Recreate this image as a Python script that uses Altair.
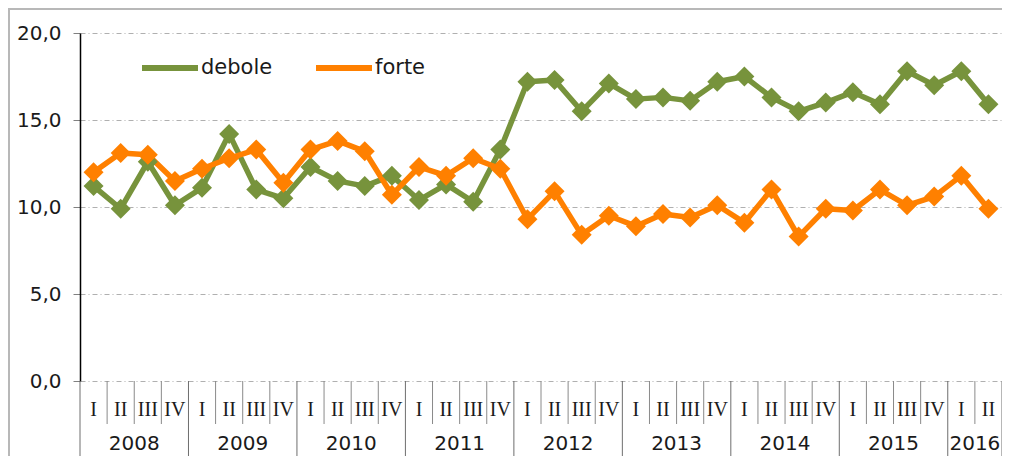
import altair as alt
import pandas as pd

# ---- data ----
years = [2008, 2009, 2010, 2011, 2012, 2013, 2014, 2015, 2016]
quarters_per_year = [4, 4, 4, 4, 4, 4, 4, 4, 2]
quarter_names = ["I", "II", "III", "IV"]
series_names = ["debole", "forte"]
debole = [11.2, 9.9, 12.6, 10.1, 11.1, 14.2, 11.0, 10.5, 12.3, 11.5, 11.2, 11.8,
          10.4, 11.3, 10.3, 13.3, 17.2, 17.3, 15.5, 17.1, 16.2, 16.3, 16.1, 17.2,
          17.5, 16.3, 15.5, 16.0, 16.6, 15.9, 17.8, 17.0, 17.8, 15.9]
forte = [12.0, 13.1, 13.0, 11.5, 12.2, 12.8, 13.3, 11.4, 13.3, 13.8, 13.2, 10.7,
         12.3, 11.8, 12.8, 12.2, 9.3, 10.9, 8.4, 9.5, 8.9, 9.6, 9.4, 10.1,
         9.1, 11.0, 8.3, 9.9, 9.8, 11.0, 10.1, 10.6, 11.8, 9.9]
series_colors = ["#77933C", "#FF8000"]
y_ticks = [0, 5, 10, 15, 20]

# ---- tables built from the lists ----
rows = []
pos = 0
for yr, n in zip(years, quarters_per_year):
    for q in range(n):
        rows.append({"pos": pos + 0.5, "year": str(yr), "quarter": quarter_names[q]})
        pos += 1
periods = pd.DataFrame(rows)
n_periods = len(periods)

long = pd.concat(
    [periods.assign(series=s, value=v) for s, v in zip(series_names, [debole, forte])],
    ignore_index=True,
)

year_starts = set()
acc = 0
for n in quarters_per_year:
    year_starts.add(acc)
    acc += n
year_starts.add(acc)
bounds = pd.DataFrame({"b": list(range(n_periods + 1))})
bounds["is_year"] = bounds["b"].isin(year_starts)
q_bounds = bounds[~bounds["is_year"]]
y_bounds = bounds[bounds["is_year"]]

year_mid = periods.groupby("year", as_index=False)["pos"].mean()

W, H = 922, 348
FONT = "DejaVu Sans"
TXT = "#1a1a1a"

xscale = alt.Scale(domain=[0, n_periods], nice=False, zero=False)
color = alt.Color(
    "series:N",
    scale=alt.Scale(domain=series_names, range=series_colors),
    legend=alt.Legend(
        title=None, orient="none", legendX=59, legendY=4, direction="horizontal",
        symbolType="stroke", symbolSize=3136, symbolStrokeWidth=6,
        labelFont=FONT, labelFontSize=21, labelColor=TXT, labelOffset=0,
        columnPadding=31, padding=0,
    ),
)

lines = alt.Chart(long).mark_line(strokeWidth=5.5, strokeJoin="round").encode(
    x=alt.X("pos:Q", scale=xscale,
            axis=alt.Axis(labels=False, ticks=False, grid=False, title=None,
                          domainColor="black", domainWidth=1.5)),
    y=alt.Y("value:Q", scale=alt.Scale(domain=[0, 20], nice=False),
            axis=alt.Axis(values=y_ticks, title=None,
                          labelExpr="replace(format(datum.value, '.1f'), '.', ',')",
                          labelFont=FONT, labelFontSize=20, labelColor=TXT,
                          labelPadding=12, tickColor="#808080", tickSize=7,
                          domainColor="black", domainWidth=1.5,
                          gridColor="#b0b0b0", gridDash=[5, 3, 1, 3], gridWidth=1)),
    color=color,
    detail="series:N",
)

points = alt.Chart(long).mark_point(shape="diamond", filled=True, size=400, opacity=1).encode(
    x=alt.X("pos:Q", scale=xscale, axis=None),
    y=alt.Y("value:Q"),
    color=alt.Color("series:N", legend=None),
)

q_sep = alt.Chart(q_bounds).mark_rule(color="#8a8a8a", strokeWidth=1).encode(
    x=alt.X("b:Q", scale=xscale, axis=None),
    y=alt.value(H), y2=alt.value(H + 43),
)
y_sep = alt.Chart(y_bounds).mark_rule(color="#6e6e6e", strokeWidth=1).encode(
    x=alt.X("b:Q", scale=xscale, axis=None),
    y=alt.value(H), y2=alt.value(H + 120),
)

q_labels = alt.Chart(periods).mark_text(
    font="Liberation Serif", fontSize=20, color=TXT, baseline="middle"
).encode(
    x=alt.X("pos:Q", scale=xscale, axis=None),
    y=alt.value(H + 29),
    text="quarter:N",
)

y_labels = alt.Chart(year_mid).mark_text(
    font=FONT, fontSize=20, color=TXT, baseline="middle"
).encode(
    x=alt.X("pos:Q", scale=xscale, axis=None),
    y=alt.value(H + 63),
    text="year:N",
)

frame = alt.Chart(pd.DataFrame({"f": [0]})).mark_rect(
    fill=None, stroke="#b8b8b8", strokeWidth=2
).encode(
    x=alt.value(-71), x2=alt.value(W + 100),
    y=alt.value(-24), y2=alt.value(H + 200),
)

chart = alt.layer(q_sep, y_sep, q_labels, y_labels, lines, points, frame).properties(
    width=W, height=H,
    autosize=alt.AutoSizeParams(type="none"),
    padding={"left": 72, "top": 25, "right": 0, "bottom": 75},
).configure_view(stroke=None)

chart.save("out.html", embed_options={"renderer": "svg", "actions": False})
